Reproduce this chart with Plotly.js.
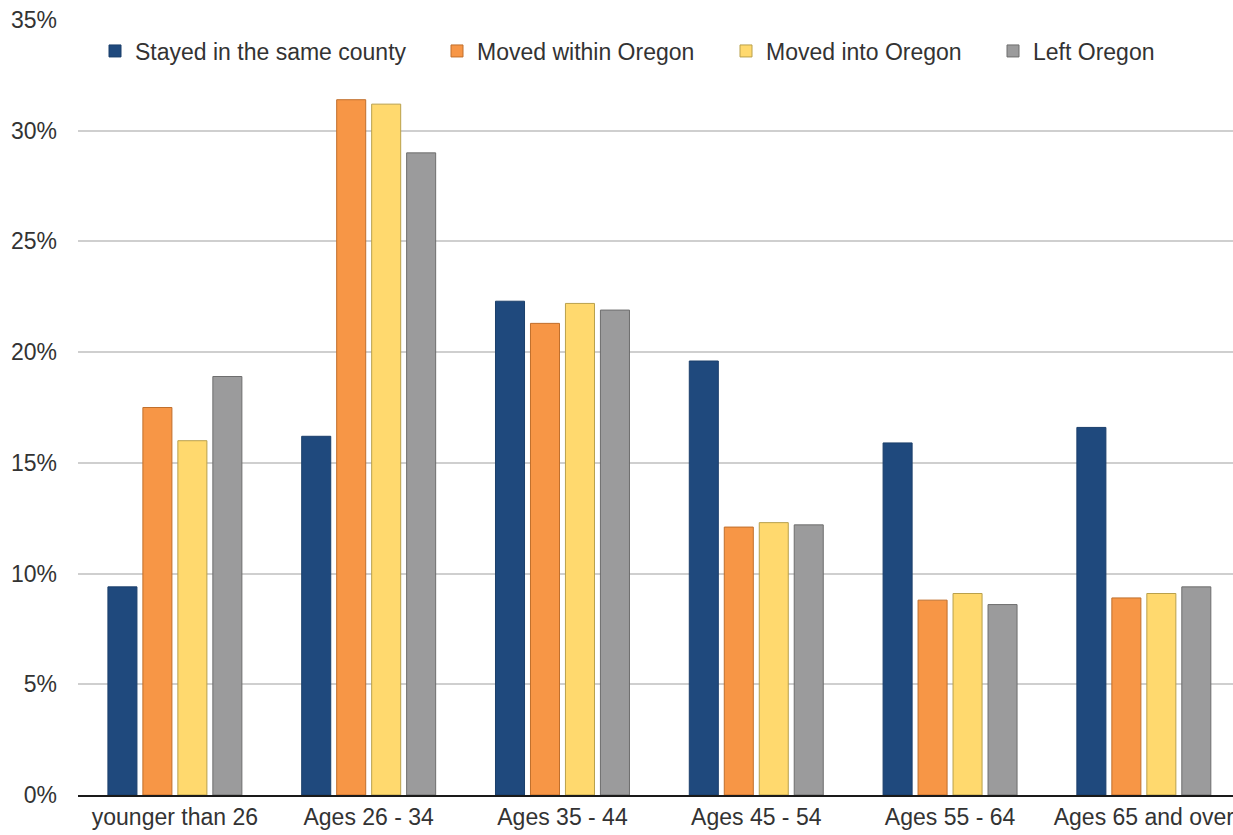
<!DOCTYPE html>
<html>
<head>
<meta charset="utf-8">
<script src="https://cdn.plot.ly/plotly-3.0.1.min.js"></script>
<style>html,body{margin:0;padding:0;background:#fff;}#chart{width:1233px;height:835px;}</style>
</head>
<body>
<div id="chart"></div>
<script>
const categories = ["younger than 26", "Ages 26 - 34", "Ages 35 - 44", "Ages 45 - 54", "Ages 55 - 64", "Ages 65 and over"];
const seriesNames = ["Stayed in the same county", "Moved within Oregon", "Moved into Oregon", "Left Oregon"];
const stayedSameCounty = [9.4, 16.2, 22.3, 19.6, 15.9, 16.6];
const movedWithinOregon = [17.5, 31.4, 21.3, 12.1, 8.8, 8.9];
const movedIntoOregon = [16.0, 31.2, 22.2, 12.3, 9.1, 9.1];
const leftOregon = [18.9, 29.0, 21.9, 12.2, 8.6, 9.4];
const yTicks = [0, 5, 10, 15, 20, 25, 30, 35];
const yTickLabels = ["0%", "5%", "10%", "15%", "20%", "25%", "30%", "35%"];

const fills = ["#1f497d", "#f79646", "#ffd96e", "#9b9b9c"];
const edges = ["#1b3f6b", "#c06f2c", "#b9a04c", "#6e6e6e"];
const legendTextX = [135, 477, 766, 1033];
const values = [stayedSameCounty, movedWithinOregon, movedIntoOregon, leftOregon];
const legendIds = ["legend", "legend2", "legend3", "legend4"];

const ML = 78, MR = 0, MT = 20, MB = 40, W = 1233, H = 835;
const FONT = "Liberation Sans, Arial, Helvetica, sans-serif";
const traces = values.map((v, i) => ({
  type: "bar",
  name: seriesNames[i],
  x: categories,
  y: v,
  marker: {color: fills[i], line: {color: edges[i], width: 1}},
  legend: legendIds[i],
  showlegend: true,
  hoverinfo: "x+y+name"
}));

const layout = {
  width: W, height: H,
  showlegend: true,
  paper_bgcolor: "#ffffff", plot_bgcolor: "#ffffff",
  margin: {l: ML, r: MR, t: MT, b: MB},
  barmode: "group", bargap: 0.278, bargroupgap: 0.17,
  font: {family: FONT, size: 23, color: "#333333"},
  xaxis: {
    type: "category",
    range: [-0.5, 5.46],
    showline: true, linecolor: "#1a1a1a", linewidth: 2,
    showgrid: false, ticks: "", zeroline: false,
    tickfont: {family: FONT, size: 23, color: "#333333"},
    fixedrange: true
  },
  yaxis: {
    range: [0, 35],
    tickmode: "array",
    tickvals: yTicks,
    ticktext: yTickLabels,
    showgrid: true, gridcolor: "#cfcfcf", gridwidth: 2,
    zeroline: false, showline: false, ticks: "",
    ticklabelstandoff: 20,
    tickfont: {family: FONT, size: 23, color: "#333333"},
    fixedrange: true
  }
};
const plotW = W - ML - MR, plotH = H - MT - MB;
legendIds.forEach((id, i) => {
  layout[id] = {
    orientation: "h",
    xref: "paper", yref: "paper",
    x: (legendTextX[i] - 40 - ML) / plotW, xanchor: "left",
    y: (H - MB - 51) / plotH, yanchor: "middle",
    bgcolor: "rgba(0,0,0,0)", borderwidth: 0,
    font: {family: FONT, size: 23, color: "#333333"}
  };
});

Plotly.newPlot("chart", traces, layout, {displayModeBar: false, staticPlot: true});
</script>
</body>
</html>
